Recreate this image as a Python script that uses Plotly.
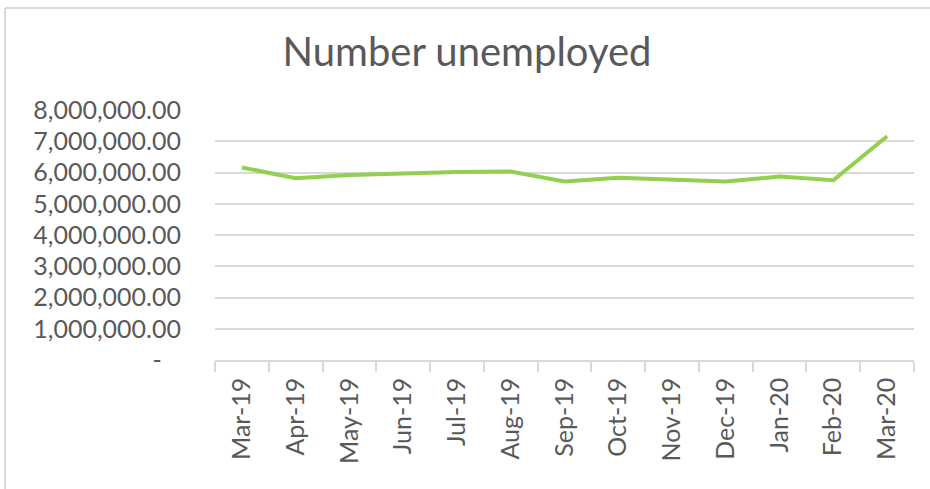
import plotly.graph_objects as go

months = ["Mar-19", "Apr-19", "May-19", "Jun-19", "Jul-19", "Aug-19", "Sep-19",
          "Oct-19", "Nov-19", "Dec-19", "Jan-20", "Feb-20", "Mar-20"]
unemployed = [6160000, 5820000, 5920000, 5980000, 6020000, 6030000, 5710000,
              5830000, 5780000, 5710000, 5870000, 5750000, 7160000]
y_ticks = [0, 1000000, 2000000, 3000000, 4000000, 5000000, 6000000, 7000000, 8000000]
y_labels = ["-\u00a0\u00a0\u00a0", "1,000,000.00", "2,000,000.00", "3,000,000.00", "4,000,000.00",
            "5,000,000.00", "6,000,000.00", "7,000,000.00", "8,000,000.00"]

W, H = 930, 489
L, R, T, B = 215, 16, 110, 129
pw, ph = W - L - R, H - T - B

def px(x):
    return (x - L) / pw

def py(y):
    return (H - B - y) / ph

fig = go.Figure()
fig.add_trace(go.Scatter(x=months, y=unemployed, mode="lines",
                         line=dict(color="#92d050", width=4), hoverinfo="x+y"))

fam = "Lato, 'Open Sans', sans-serif"
font = dict(family=fam, color="#595959", size=25)

fig.update_layout(
    width=W, height=H,
    margin=dict(l=L, r=R, t=T, b=B),
    paper_bgcolor="white", plot_bgcolor="white",
    showlegend=False,
    font=font,
    title=dict(text="Number unemployed", x=467 / W, xref="container", xanchor="center",
               y=1 - 52 / H, yref="container", yanchor="middle",
               font=dict(family=fam, size=40, color="#595959")),
    xaxis=dict(
        type="category", tickangle=-90, showgrid=False,
        showline=True, linecolor="#d9d9d9", linewidth=1.5,
        ticks="outside", ticklen=10, tickcolor="#d9d9d9", tickwidth=1.5,
        tickson="boundaries", range=[-0.5, 12.5],
        ticklabelstandoff=6,
        tickfont=dict(size=25, color="#595959"),
    ),
    yaxis=dict(
        range=[0, 8000000], tickvals=y_ticks, ticktext=y_labels,
        showgrid=True, gridcolor="#d9d9d9", gridwidth=1.5,
        zeroline=False, showline=False, ticks="",
        ticklabelstandoff=33,
        tickfont=dict(size=25, color="#595959"),
    ),
    shapes=[
        dict(type="line", xref="paper", yref="paper", x0=px(5), x1=px(935), y0=py(8), y1=py(8),
             line=dict(color="#d9d9d9", width=2)),
        dict(type="line", xref="paper", yref="paper", x0=px(5), x1=px(5), y0=py(8), y1=py(495),
             line=dict(color="#d9d9d9", width=2)),
    ],
)

fig.write_html("out.html", config={"displayModeBar": False},
               post_script="document.body.style.margin='0';document.body.style.overflow='hidden';")
